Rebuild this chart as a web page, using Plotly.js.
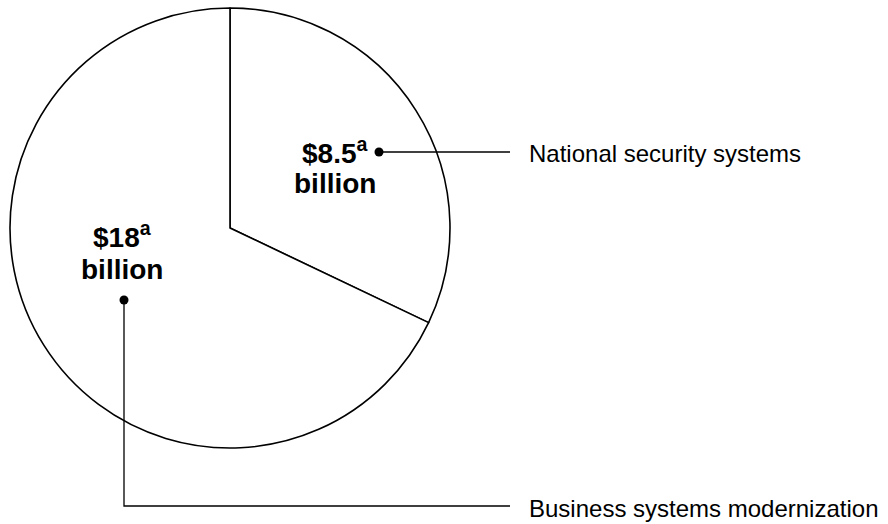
<!DOCTYPE html>
<html>
<head>
<meta charset="utf-8">
<script src="https://cdn.plot.ly/plotly-3.0.1.min.js"></script>
<style>html,body{margin:0;padding:0;background:#fff;}#chart{width:888px;height:524px;}</style>
</head>
<body>
<div id="chart"></div>
<script>
const categories = ["National security systems", "Business systems modernization"];
const values = [8.5, 18];
const valueLines = ["$8.5<sup>a</sup>", "$18<sup>a</sup>"];
const unitLines = ["billion", "billion"];

const W = 888, H = 524;
const px = x => x / W;
const py = y => 1 - y / H;
const FONT = "Liberation Sans, Arial, Helvetica, sans-serif";

const trace = {
  type: "pie",
  values: values,
  labels: categories,
  sort: false,
  direction: "clockwise",
  rotation: 0,
  textinfo: "none",
  hoverinfo: "label+value",
  marker: { colors: ["#ffffff", "#ffffff"], line: { color: "#000000", width: 1.6 } },
  domain: { x: [px(10), px(450)], y: [py(448), py(8)] },
  showlegend: false
};

const valuePos = [[335, 151], [122, 235]];
const unitPos = [[335, 184], [122, 269]];
const dots = [[379, 152], [124, 300]];
const labelPos = [[527, 153], [527, 508]];

const annotations = [];
values.forEach((v, i) => {
  annotations.push({
    xref: "paper", yref: "paper", x: px(valuePos[i][0]), y: py(valuePos[i][1]),
    text: "<b>" + valueLines[i] + "</b>", showarrow: false, align: "center",
    xanchor: "center", yanchor: "middle",
    font: { family: FONT, size: 28, color: "#000" }
  });
  annotations.push({
    xref: "paper", yref: "paper", x: px(unitPos[i][0]), y: py(unitPos[i][1]),
    text: "<b>" + unitLines[i] + "</b>", showarrow: false, align: "center",
    xanchor: "center", yanchor: "middle",
    font: { family: FONT, size: 28, color: "#000" }
  });
  annotations.push({
    xref: "paper", yref: "paper", x: px(labelPos[i][0]), y: py(labelPos[i][1]),
    text: categories[i], showarrow: false, xanchor: "left", yanchor: "middle",
    font: { family: FONT, size: 24, color: "#000" }
  });
});

const r = 4.5;
const shapes = dots.map(d => ({
  type: "circle", xref: "paper", yref: "paper",
  x0: px(d[0] - r), x1: px(d[0] + r), y0: py(d[1] + r), y1: py(d[1] - r),
  fillcolor: "#000", line: { color: "#000", width: 0 }
}));
shapes.push({
  type: "line", xref: "paper", yref: "paper",
  x0: px(dots[0][0]), y0: py(dots[0][1]), x1: px(510), y1: py(dots[0][1]),
  line: { color: "#000", width: 1.3 }
});
shapes.push({
  type: "path", xref: "paper", yref: "paper",
  path: "M" + px(dots[1][0]) + "," + py(dots[1][1]) + " L" + px(dots[1][0]) + "," + py(506) + " L" + px(510) + "," + py(506),
  line: { color: "#000", width: 1.3 }
});

const layout = {
  width: W, height: H,
  margin: { l: 0, r: 0, t: 0, b: 0 },
  paper_bgcolor: "#fff", plot_bgcolor: "#fff",
  showlegend: false,
  annotations: annotations,
  shapes: shapes
};

Plotly.newPlot("chart", [trace], layout, { displayModeBar: false, staticPlot: true });
</script>
</body>
</html>
